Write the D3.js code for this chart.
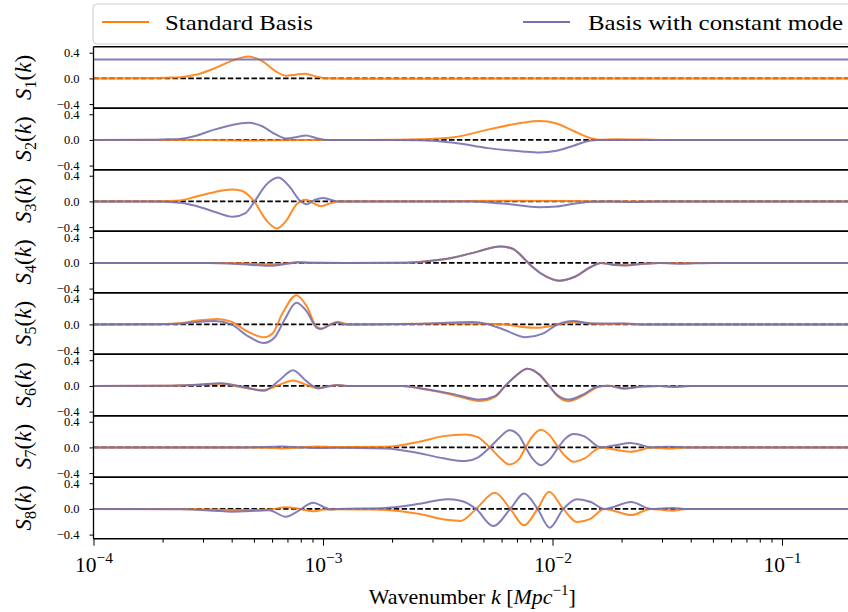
<!DOCTYPE html>
<html>
<head>
<meta charset="utf-8">
<script src="https://cdn.jsdelivr.net/npm/d3@7"></script>
<style>
  body { margin: 0; background: #fff; }
  svg { display: block; font-family: "Liberation Serif", "DejaVu Serif", serif; }
</style>
</head>
<body>
<div id="chart"></div>
<script>
// every point is [log10 k, S(k)]
const s1Standard = [[-4,0],[-3.8,0.002],[-3.68,0.012],[-3.62,0.02],[-3.549,0.06],[-3.474,0.155],[-3.40,0.27],[-3.325,0.34],[-3.265,0.27],[-3.206,0.11],[-3.161,0.043],[-3.12,0.058],[-3.079,0.072],[-3.027,0.027],[-2.982,0.002],[-2.9,-0.004],[-2.5,-0.004],[-2.0,-0.002],[-0.7,0]];
const s1Constant = [[-4,0.293],[-0.7,0.293]];

const s2Standard = [[-4,0],[-3.5,-0.003],[-3.32,-0.01],[-3.1,-0.003],[-2.8,0],[-2.58,0.01],[-2.43,0.043],[-2.281,0.16],[-2.132,0.267],[-2.057,0.293],[-1.982,0.256],[-1.908,0.139],[-1.833,0.027],[-1.80,0.003],[-1.72,0.012],[-1.6,0.006],[-1.5,0],[-0.7,0]];
const s2Constant = [[-4,0],[-3.75,0.003],[-3.68,0.01],[-3.623,0.016],[-3.549,0.07],[-3.474,0.16],[-3.40,0.23],[-3.325,0.267],[-3.265,0.213],[-3.206,0.085],[-3.161,0.021],[-3.12,0.042],[-3.074,0.07],[-3.027,0.027],[-2.982,0],[-2.7,0],[-2.579,-0.005],[-2.43,-0.043],[-2.281,-0.128],[-2.132,-0.18],[-2.057,-0.197],[-1.982,-0.17],[-1.908,-0.09],[-1.833,-0.01],[-1.804,0],[-0.7,0]];

const s3Standard = [[-4,0],[-3.75,0.002],[-3.623,0.016],[-3.549,0.08],[-3.474,0.144],[-3.40,0.187],[-3.355,0.165],[-3.300,0],[-3.25,-0.28],[-3.201,-0.42],[-3.161,-0.304],[-3.116,-0.048],[-3.074,0.027],[-3.042,-0.027],[-3.009,-0.075],[-2.967,-0.027],[-2.937,0],[-2.5,0.003],[-2.2,0.01],[-1.9,0.008],[-1.8,0],[-0.7,0]];
const s3Constant = [[-4,0],[-3.75,-0.002],[-3.623,-0.02],[-3.549,-0.075],[-3.474,-0.16],[-3.392,-0.24],[-3.340,-0.187],[-3.298,0],[-3.25,0.25],[-3.194,0.373],[-3.146,0.23],[-3.101,0.016],[-3.071,-0.043],[-3.034,0.027],[-3.0,0.053],[-2.967,0.027],[-2.937,0],[-2.35,-0.003],[-2.206,-0.037],[-2.057,-0.09],[-1.983,-0.08],[-1.908,-0.037],[-1.833,-0.005],[-1.75,0],[-1.65,-0.008],[-1.55,0],[-0.7,0]];

const s4Standard = [[-4,0],[-3.5,0],[-3.35,-0.006],[-3.236,-0.022],[-3.15,-0.004],[-3.11,0.012],[-3.05,0.003],[-2.9,0],[-2.65,0.003],[-2.579,0.016],[-2.43,0.085],[-2.326,0.176],[-2.229,0.256],[-2.176,0.225],[-2.117,0.043],[-2.087,-0.064],[-2.027,-0.213],[-1.968,-0.277],[-1.908,-0.224],[-1.833,-0.064],[-1.789,0],[-1.74,-0.025],[-1.684,-0.037],[-1.61,-0.014],[-1.535,0],[-1.47,-0.006],[-1.3,0],[-0.7,0]];
const s4Constant = [[-4,0],[-3.5,0],[-3.35,-0.02],[-3.236,-0.045],[-3.15,-0.01],[-3.11,0.012],[-3.05,0.003],[-2.9,0],[-2.65,0.003],[-2.579,0.016],[-2.43,0.085],[-2.326,0.176],[-2.229,0.256],[-2.176,0.225],[-2.117,0.043],[-2.087,-0.064],[-2.027,-0.213],[-1.968,-0.277],[-1.908,-0.224],[-1.833,-0.064],[-1.789,0],[-1.74,-0.028],[-1.684,-0.04],[-1.61,-0.016],[-1.535,0],[-1.45,-0.012],[-1.3,0],[-0.7,0]];

const s5Standard = [[-4,0],[-3.75,0.003],[-3.623,0.02],[-3.549,0.06],[-3.459,0.085],[-3.40,0.043],[-3.325,-0.117],[-3.258,-0.2],[-3.221,-0.144],[-3.176,0.176],[-3.116,0.455],[-3.071,0.283],[-3.027,-0.037],[-3.004,-0.064],[-2.967,0],[-2.937,0.043],[-2.907,0.016],[-2.878,0],[-2.7,0.005],[-2.5,0.016],[-2.3,0.012],[-2.206,0],[-2.132,-0.04],[-2.065,-0.053],[-2.0,-0.02],[-1.908,0.037],[-1.833,0.015],[-1.75,0.005],[-1.68,0.012],[-1.6,0],[-0.7,0]];
const s5Constant = [[-4,0],[-3.75,0.002],[-3.623,0.01],[-3.549,0.037],[-3.474,0.053],[-3.40,0],[-3.325,-0.187],[-3.258,-0.29],[-3.213,-0.213],[-3.168,0.07],[-3.116,0.336],[-3.071,0.203],[-3.027,-0.053],[-3.009,-0.07],[-2.967,0],[-2.937,0.027],[-2.907,0],[-2.6,0.005],[-2.43,0.03],[-2.35,0.037],[-2.281,0.003],[-2.206,-0.09],[-2.117,-0.2],[-2.042,-0.144],[-1.983,-0.01],[-1.908,0.053],[-1.833,0.016],[-1.684,0.016],[-1.61,0],[-0.7,0]];

const s6Standard = [[-4,0],[-3.7,0.003],[-3.549,0.016],[-3.444,0.032],[-3.355,-0.02],[-3.258,-0.064],[-3.191,0.016],[-3.131,0.085],[-3.071,0.016],[-3.019,-0.037],[-2.982,-0.01],[-2.937,0.01],[-2.892,0],[-2.654,0],[-2.579,-0.037],[-2.43,-0.144],[-2.318,-0.235],[-2.251,-0.17],[-2.206,0],[-2.162,0.15],[-2.109,0.267],[-2.057,0.176],[-2.012,-0.01],[-1.983,-0.144],[-1.930,-0.24],[-1.863,-0.144],[-1.804,-0.02],[-1.759,0.003],[-1.684,-0.037],[-1.61,-0.01],[-1.535,0],[-1.47,-0.01],[-1.4,0],[-0.7,0]];
const s6Constant = [[-4,0],[-3.7,0.003],[-3.549,0.02],[-3.444,0.043],[-3.355,-0.01],[-3.258,-0.075],[-3.191,0.085],[-3.131,0.245],[-3.071,0.07],[-3.019,-0.037],[-2.982,-0.01],[-2.937,0.016],[-2.892,0],[-2.654,0],[-2.579,-0.037],[-2.43,-0.128],[-2.318,-0.213],[-2.251,-0.16],[-2.206,0],[-2.162,0.15],[-2.109,0.267],[-2.057,0.176],[-2.012,-0.01],[-1.983,-0.13],[-1.930,-0.213],[-1.863,-0.128],[-1.804,-0.01],[-1.759,0.003],[-1.684,-0.043],[-1.61,-0.01],[-1.535,0],[-1.47,-0.015],[-1.4,0],[-0.7,0]];

const s7Standard = [[-4,0],[-3.4,0],[-3.206,-0.01],[-3.176,-0.016],[-3.1,0],[-3.027,0.016],[-2.95,0.005],[-2.728,0.01],[-2.579,0.09],[-2.475,0.176],[-2.378,0.203],[-2.326,0.16],[-2.273,0],[-2.229,-0.16],[-2.188,-0.267],[-2.147,-0.187],[-2.117,0],[-2.087,0.176],[-2.050,0.277],[-2.012,0.187],[-1.975,0],[-1.945,-0.133],[-1.908,-0.224],[-1.863,-0.176],[-1.789,0],[-1.714,-0.043],[-1.662,-0.069],[-1.61,-0.035],[-1.572,0],[-1.49,-0.02],[-1.416,0],[-0.7,0]];
const s7Constant = [[-4,0],[-3.4,0],[-3.206,0.01],[-3.176,0.016],[-3.1,0],[-3.027,-0.01],[-2.95,-0.005],[-2.728,-0.016],[-2.579,-0.09],[-2.475,-0.17],[-2.378,-0.213],[-2.326,-0.16],[-2.273,0],[-2.229,0.16],[-2.188,0.267],[-2.147,0.187],[-2.117,0],[-2.087,-0.176],[-2.050,-0.277],[-2.012,-0.187],[-1.975,0],[-1.945,0.133],[-1.908,0.208],[-1.863,0.176],[-1.789,0],[-1.714,0.043],[-1.662,0.069],[-1.61,0.035],[-1.572,0],[-1.49,0.01],[-1.416,0],[-0.7,0]];

const s8Standard = [[-4,0],[-3.623,0],[-3.474,-0.01],[-3.325,-0.016],[-3.236,-0.01],[-3.161,0.027],[-3.101,0],[-3.042,-0.037],[-2.997,-0.01],[-2.937,-0.005],[-2.803,-0.01],[-2.728,-0.016],[-2.579,-0.08],[-2.460,-0.17],[-2.40,-0.187],[-2.333,0],[-2.251,0.25],[-2.184,0],[-2.124,-0.256],[-2.065,0],[-2.015,0.267],[-1.953,0],[-1.893,-0.203],[-1.833,-0.15],[-1.774,0],[-1.657,-0.096],[-1.572,0],[-1.475,-0.027],[-1.416,0],[-0.7,0]];
const s8Constant = [[-4,0],[-3.623,-0.005],[-3.474,-0.027],[-3.40,-0.043],[-3.28,-0.027],[-3.236,-0.02],[-3.161,-0.123],[-3.116,-0.05],[-3.042,0.096],[-2.997,0.03],[-2.967,-0.01],[-2.937,0],[-2.728,0.016],[-2.579,0.08],[-2.460,0.15],[-2.40,0.128],[-2.333,0],[-2.258,-0.267],[-2.184,0],[-2.124,0.24],[-2.065,0],[-2.012,-0.293],[-1.953,0],[-1.893,0.15],[-1.833,0.107],[-1.774,0],[-1.657,0.107],[-1.572,0],[-1.475,0.016],[-1.416,0],[-0.7,0]];

const seriesNames = ["Standard Basis", "Basis with constant mode"];
const seriesColors = ["#ff7f0e", "#7570b3"];
const panelIndex = ["1", "2", "3", "4", "5", "6", "7", "8"];
const yTicks = [-0.4, 0.0, 0.4];
const xMajorTicks = [1e-4, 1e-3, 1e-2, 1e-1];
const xMajorExponents = ["\u22124", "\u22123", "\u22122", "\u22121"];

const panels = [
    [s1Standard, s1Constant], [s2Standard, s2Constant],
    [s3Standard, s3Constant], [s4Standard, s4Constant],
    [s5Standard, s5Constant], [s6Standard, s6Constant],
    [s7Standard, s7Constant], [s8Standard, s8Constant]
];

// layout
const left = 93.5, decade = 229.5;
const panelTop = 46.7, panelH = 61.5;
const bottom = panelTop + panelH * panels.length;
const serif = "Liberation Serif, DejaVu Serif, serif";

const x = d3.scaleLog()
    .domain([1e-4, 0.2])
    .range([left, left + decade * Math.log10(2000)]);
const right = x.range()[1];

const svg = d3.select("#chart").append("svg")
    .attr("width", 848)
    .attr("height", 612);

svg.append("defs").append("clipPath").attr("id", "plotClip")
    .append("rect")
    .attr("x", left).attr("y", panelTop)
    .attr("width", right - left).attr("height", bottom - panelTop);

panels.forEach(function(pair, i) {
    const top = panelTop + i * panelH;
    const y = d3.scaleLinear()
        .domain([-0.464, 0.494])
        .range([top + panelH, top]);

    const g = svg.append("g");

    // zero reference
    g.append("line")
        .attr("x1", left).attr("x2", right)
        .attr("y1", y(0)).attr("y2", y(0))
        .attr("stroke", "#000")
        .attr("stroke-width", 1.6)
        .attr("stroke-dasharray", "5.5,2.4");

    const line = d3.line()
        .x(function(d) { return x(Math.pow(10, d[0])); })
        .y(function(d) { return y(d[1]); })
        .curve(d3.curveMonotoneX);

    pair.forEach(function(series, j) {
        g.append("path")
            .attr("d", line(series))
            .attr("clip-path", "url(#plotClip)")
            .style("fill", "none")
            .style("stroke", seriesColors[j])
            .style("stroke-width", 2)
            .style("opacity", 0.9);
    });

    // y axis
    const ya = g.append("g")
        .attr("transform", "translate(" + left + ",0)")
        .call(d3.axisLeft(y).tickValues(yTicks).tickSize(4).tickSizeOuter(0)
            .tickPadding(10).tickFormat(d3.format(".1f")));
    ya.select(".domain").remove();
    ya.attr("font-family", serif).attr("font-size", 12.5);
    ya.selectAll("text").attr("fill", "#000");

    // panel frame top / bottom
    [top, top + panelH].forEach(function(yy) {
        g.append("line")
            .attr("x1", left).attr("x2", 848)
            .attr("y1", yy).attr("y2", yy)
            .attr("stroke", "#000")
            .attr("stroke-width", 1.6);
    });

    // S_n(k) label
    const lab = g.append("text")
        .attr("transform", "translate(31," + (top + panelH / 2) + ") rotate(-90)")
        .attr("text-anchor", "middle")
        .attr("font-family", serif)
        .attr("font-size", 23);
    lab.append("tspan").attr("font-style", "italic").text("S");
    lab.append("tspan").attr("font-size", 16).attr("dy", 5).text(panelIndex[i]);
    lab.append("tspan").attr("dy", -5).text("(");
    lab.append("tspan").attr("font-style", "italic").text("k");
    lab.append("tspan").text(")");
});

// left spine
svg.append("line")
    .attr("x1", left).attr("x2", left)
    .attr("y1", panelTop).attr("y2", bottom)
    .attr("stroke", "#000").attr("stroke-width", 1.3);

// x axis: minor ticks
const minorTicks = x.ticks().filter(function(d) {
    return Math.abs(Math.log10(d) - Math.round(Math.log10(d))) > 1e-6;
});
const xMinor = svg.append("g")
    .attr("transform", "translate(0," + bottom + ")")
    .call(d3.axisBottom(x).tickValues(minorTicks).tickSize(4).tickSizeOuter(0).tickFormat(""));
xMinor.select(".domain").remove();

// x axis: major ticks with 10^n labels
const xMajor = svg.append("g")
    .attr("transform", "translate(0," + bottom + ")")
    .call(d3.axisBottom(x).tickValues(xMajorTicks).tickSize(7).tickSizeOuter(0).tickFormat(""));
xMajor.select(".domain").remove();
xMajor.attr("font-family", serif).attr("font-size", 21.5);
xMajor.selectAll(".tick text").each(function(d, i) {
    const t = d3.select(this).attr("y", 33).attr("dy", null).attr("fill", "#000");
    t.append("tspan").text("10");
    t.append("tspan").attr("font-size", 15.5).attr("dy", -9).text(xMajorExponents[i]);
});

// x label
const xl = svg.append("text")
    .attr("x", (left + right) / 2)
    .attr("y", 604)
    .attr("text-anchor", "middle")
    .attr("font-family", serif)
    .attr("font-size", 22);
xl.append("tspan").text("Wavenumber ");
xl.append("tspan").attr("font-style", "italic").text("k");
xl.append("tspan").text(" [");
xl.append("tspan").attr("font-style", "italic").text("Mpc");
xl.append("tspan").attr("font-size", 15).attr("dy", -9).text("\u22121");
xl.append("tspan").attr("dy", 9).text("]");

// legend
const legend = svg.append("g");
legend.append("rect")
    .attr("x", 93).attr("y", 4)
    .attr("width", 800).attr("height", 40)
    .attr("rx", 4)
    .attr("fill", "#fff").attr("fill-opacity", 0.8)
    .attr("stroke", "#cccccc").attr("stroke-width", 1);

const legendItems = [
    {x: 102, textX: 165, width: 148},
    {x: 523, textX: 588, width: 255}
];
legendItems.forEach(function(item, j) {
    legend.append("line")
        .attr("x1", item.x).attr("x2", item.x + 47)
        .attr("y1", 22).attr("y2", 22)
        .attr("stroke", seriesColors[j])
        .attr("stroke-width", 2);
    legend.append("text")
        .attr("x", item.textX).attr("y", 30)
        .attr("font-family", serif)
        .attr("font-size", 22)
        .attr("textLength", item.width)
        .attr("lengthAdjust", "spacingAndGlyphs")
        .text(seriesNames[j]);
});
</script>
</body>
</html>
